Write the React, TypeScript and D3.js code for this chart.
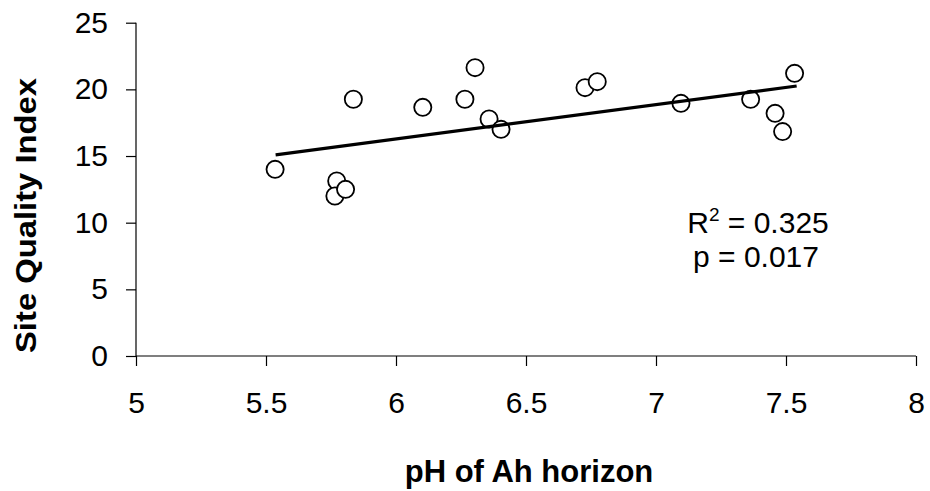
import React, { useEffect, useRef } from "react";
import * as d3 from "d3";

// pH of Ah horizon vs Site Quality Index
const phValues = [
  5.535, 5.772, 5.765, 5.806, 5.836, 6.103, 6.265, 6.304, 6.358, 6.404, 6.727,
  6.774, 7.096, 7.364, 7.458, 7.487, 7.533,
];
const sqiValues = [
  14.0, 13.13, 12.0, 12.5, 19.26, 18.65, 19.26, 21.63, 17.78, 17.0, 20.13,
  20.58, 18.95, 19.25, 18.2, 16.83, 21.2,
];

// fitted line ends (as drawn in the figure)
const trendX = [5.537, 7.541];
const trendY = [15.08, 20.25];

const xTicks = [5, 5.5, 6, 6.5, 7, 7.5, 8];
const yTicks = [0, 5, 10, 15, 20, 25];

const xTitle = "pH of Ah horizon";
const yTitle = "Site Quality Index";
const r2Label = "0.325";
const pLabel = "0.017";

const WIDTH = 930;
const HEIGHT = 491;
const FONT = "Arial, 'Liberation Sans', Helvetica, sans-serif";

const App: React.FC = () => {
  const svgRef = useRef<SVGSVGElement | null>(null);

  useEffect(() => {
    if (!svgRef.current) return;
    const svg = d3.select(svgRef.current);
    svg.selectAll("*").remove();

    const x = d3.scaleLinear().domain([5, 8]).range([136, 916]);
    const y = d3.scaleLinear().domain([0, 25]).range([356, 22.7]);

    svg
      .append("rect")
      .attr("width", WIDTH)
      .attr("height", HEIGHT)
      .attr("fill", "#fff");

    // axes
    const xAxis = svg
      .append("g")
      .attr("transform", `translate(0,${y(0)})`)
      .call(
        d3
          .axisBottom(x)
          .tickValues(xTicks)
          .tickSize(10)
          .tickPadding(26)
          .tickFormat((d) => String(d))
      );
    const yAxis = svg
      .append("g")
      .attr("transform", `translate(${x(5)},0)`)
      .call(
        d3
          .axisLeft(y)
          .tickValues(yTicks)
          .tickSize(10)
          .tickPadding(18)
          .tickFormat((d) => String(d))
      );

    [xAxis, yAxis].forEach((ax) => {
      ax.select(".domain").attr("stroke", "#000").attr("stroke-width", 1.2);
      ax.selectAll(".tick line").attr("stroke", "#000").attr("stroke-width", 1.2);
      ax.selectAll(".tick text")
        .attr("fill", "#000")
        .style("font-family", FONT)
        .style("font-size", "30px");
    });
    // plain axis lines, no outer ticks
    xAxis.select(".domain").attr("d", `M${x(5)},0H${x(8)}`);
    yAxis.select(".domain").attr("d", `M0,${y(25)}V${y(0)}`);

    // points
    const pts = d3.range(phValues.length).map((i) => ({
      ph: phValues[i],
      sqi: sqiValues[i],
    }));
    svg
      .append("g")
      .selectAll("circle")
      .data(pts)
      .enter()
      .append("circle")
      .attr("cx", (d) => x(d.ph))
      .attr("cy", (d) => y(d.sqi))
      .attr("r", 8.6)
      .attr("fill", "#fff")
      .attr("stroke", "#000")
      .attr("stroke-width", 1.8);

    // trend line on top
    const line = d3
      .line<number>()
      .x((d) => x(d))
      .y((_, i) => y(trendY[i]));
    svg
      .append("path")
      .attr("d", line(trendX))
      .attr("fill", "none")
      .attr("stroke", "#000")
      .attr("stroke-width", 3.2);

    // stats
    const stats = svg
      .append("text")
      .attr("x", 758)
      .attr("y", 233)
      .attr("text-anchor", "middle")
      .style("font-family", FONT)
      .style("font-size", "30px");
    stats.append("tspan").text("R");
    stats
      .append("tspan")
      .attr("dy", -12)
      .style("font-size", "19px")
      .text("2");
    stats.append("tspan").attr("dy", 12).text(` = ${r2Label}`);

    svg
      .append("text")
      .attr("x", 756)
      .attr("y", 267)
      .attr("text-anchor", "middle")
      .style("font-family", FONT)
      .style("font-size", "30px")
      .text(`p = ${pLabel}`);

    // titles
    svg
      .append("text")
      .attr("x", (x(5) + x(8)) / 2 + 3)
      .attr("y", 482)
      .attr("text-anchor", "middle")
      .style("font-family", FONT)
      .style("font-weight", "bold")
      .style("font-size", "31px")
      .text(xTitle);

    svg
      .append("text")
      .attr("transform", "translate(36,215.5) rotate(-90)")
      .attr("text-anchor", "middle")
      .style("font-family", FONT)
      .style("font-weight", "bold")
      .style("font-size", "30px")
      .attr("textLength", 275)
      .attr("lengthAdjust", "spacingAndGlyphs")
      .text(yTitle);
  }, []);

  return (
    <svg
      ref={svgRef}
      width={WIDTH}
      height={HEIGHT}
      style={{ position: "absolute", left: 0, top: 0, display: "block" }}
    />
  );
};

export default App;
